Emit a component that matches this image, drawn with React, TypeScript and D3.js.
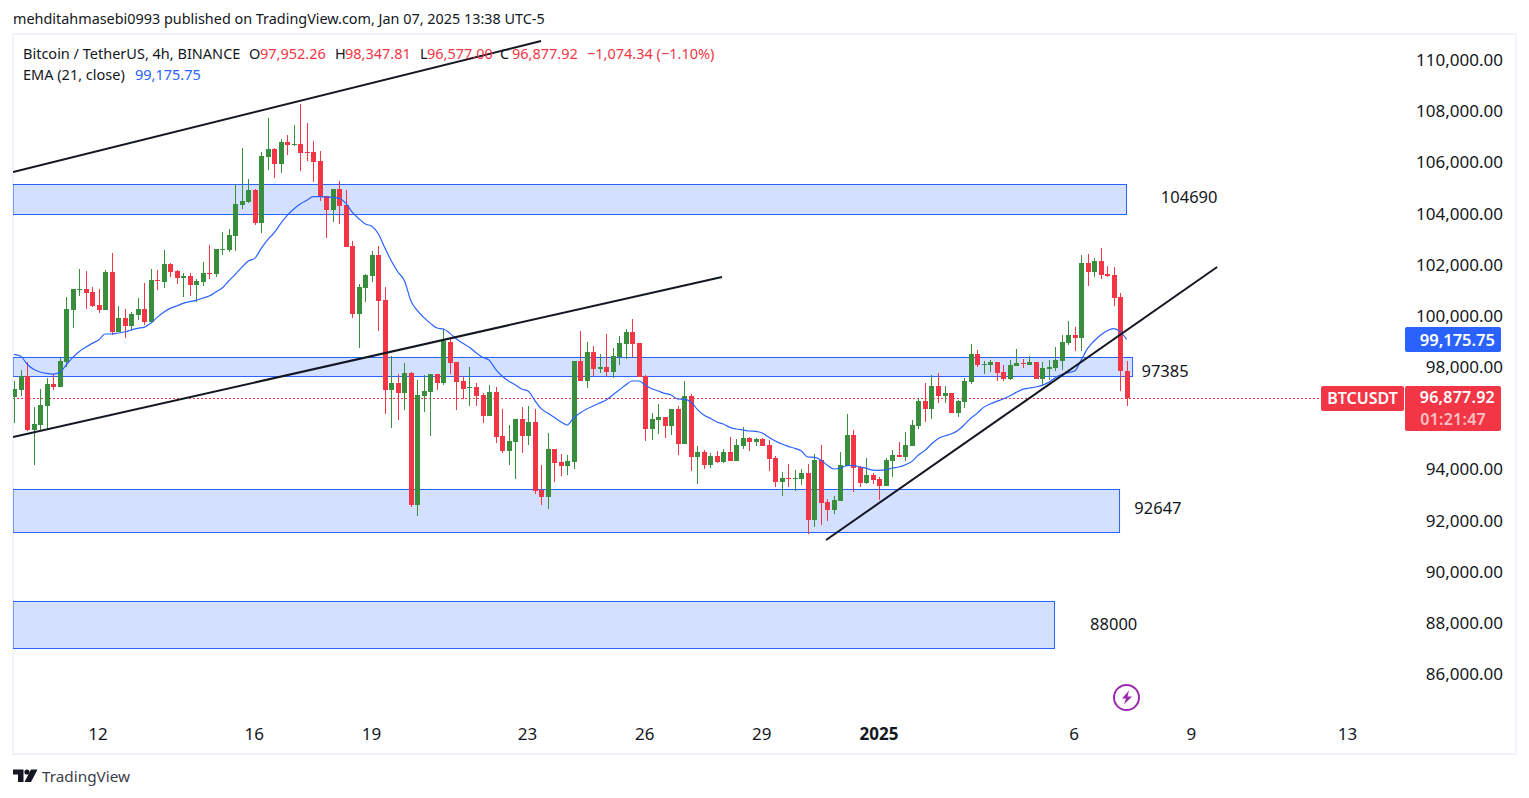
import React from "react";
import * as d3 from "d3";

type C = number[];
// [open, high, low, close], oldest first
const candlesA: C[] = [[96941,97554,95925,97241],[97202,97984,96980,97749],[97749,98297,95612,95638],[95638,96537,94270,95873],[95834,97241,95638,96616],[96577,97671,95677,97437],[97437,97827,97202,97319],[97319,98466,97319,98336],[98297,100837,98114,100368],[100329,101150,99626,101150],[101111,101932,100876,101150],[101150,101854,100368,100994],[101033,101228,100446,100486],[100525,101150,100212,100329],[100329,101893,100329,101815],[101815,102557,99352,99469],[99469,100486,99469,100016],[100016,100368,99235,99704],[99704,100251,99547,100173],[100134,100798,99938,100368],[100368,101385,99743,99860],[99860,101932,99860,101502],[101502,101893,101111,101463],[101424,102675,101189,102127],[102127,102166,101619,101815],[101854,101893,101346,101580],[101580,101776,100837,101658],[101658,101776,100876,101306],[101306,101541,100642,101463],[101424,102206,101267,101776],[101776,102870,101541,101736],[101736,102714,101619,102714],[102675,103378,102479,102714],[102675,103495,102596,103261]];
const candlesB: C[] = [[103222,105255,102636,104473],[104434,106662,104277,104590],[104551,105450,104512,105020],[105020,105059,103652,103730],[103730,106505,103339,106349],[106310,107834,105802,106623],[106623,106662,105489,106036],[106036,107014,105685,106896],[106896,107170,106388,106779],[106779,107561,106740,106818],[106818,108382,105763,106466],[106505,107639,106154,106466],[106505,106935,105333,106115],[106154,106545,104590,104746],[104785,104785,103144,104238],[104238,105059,103769,105059],[105059,105372,103691,104395],[104434,105020,102792,102792],[102831,103026,100016,100173],[100173,101346,98844,101228],[101189,101736,100642,101697],[101658,102636,101424,102479],[102479,102831,99508,100681],[100720,101228,96264,97202],[97202,98531,95717,97476],[97476,97827,96029,97085],[97085,98257,96420,97867],[97867,97906,92628,92707],[92707,97593,92277,97007],[96967,97788,96342,97163],[97124,97827,95404,97827],[97827,97827,97202,97476]];
const candlesC: C[] = [[97476,99586,97397,99117],[99078,99195,97827,98257],[98296,98296,96420,97515],[97554,97749,96850,97241],[97280,98101,96576,97319],[97319,97476,96576,96967],[97006,97085,95912,96186],[96186,97397,96186,97124],[97124,97319,95130,95365],[95404,96459,94739,94817],[94817,95834,94270,95208],[95169,96068,93723,96068],[96068,96537,94739,95404],[95404,96576,95052,95951],[95951,96459,93137,93254],[93293,94270,92707,93019],[93019,95521,92550,94896],[94896,94896,93606,94348],[94387,94700,93840,94231],[94231,94661,93879,94427],[94387,98336,94114,98336],[98336,99508,97554,97554],[97554,99078,97280,98687],[98687,98922,97749,98023],[98023,98609,97866,98101],[98101,99391,97749,97906],[97906,98844,97671,98531],[98492,99313,98179,99039],[99000,99586,98414,99469],[99469,99977,98492,99000],[99039,99039,97710,97710],[97749,97788,95208,95677]];
const candlesD: C[] = [[95678,96303,95248,96069],[96030,96655,95482,96147],[96147,96147,95326,95795],[95795,96460,95443,96460],[96460,96577,94661,95091],[95091,97554,95091,96968],[96968,97046,94036,94583],[94583,95013,93528,94779],[94779,94857,94114,94271],[94271,94740,94153,94622],[94622,94818,94349,94388],[94388,94896,94349,94779],[94779,95365,94427,94427],[94427,95287,94427,95052],[95013,95756,94896,95326],[95326,95365,94818,95170],[95170,95326,95013,95287],[95287,95326,95013,95013],[95052,95248,94036,94505],[94544,94622,93411,93606],[93606,93997,93059,93762],[93762,94310,93411,93723],[93723,94075,93254,93762],[93723,94114,93489,93958],[93958,94310,91573,92121],[92121,94701,91847,94466],[94466,95052,91925,92785],[92824,92941,92082,92511],[92511,93059,92355,92902],[92863,94779,92863,94271],[94231,96264,94231,95443],[95443,95639,93215,94153],[94192,94231,93411,93567]];
const candlesE: C[] = [[93566,94543,93527,93879],[93879,93957,93527,93683],[93723,93801,92902,93449],[93449,94543,93449,94465],[94426,94856,93801,94661],[94661,95169,94583,94583],[94583,95560,94426,95052],[95013,96029,95013,95833],[95794,96889,95677,96772],[96772,97475,95951,96459],[96459,97788,96068,97358],[97358,97866,96693,96967],[96967,97358,96693,97084],[97084,97084,96303,96303],[96303,96811,96146,96772],[96733,97671,96498,97553],[97514,99000,97436,98609],[98609,98765,98101,98179],[98179,98335,97827,98218],[98179,98374,97905,98296],[98296,98296,97553,97866],[97905,98179,97553,97632],[97632,98374,97592,98179],[98140,98804,98140,98257],[98257,98413,98062,98218],[98179,98531,98179,98296],[98296,98296,97632,97632],[97632,98296,97358,98062],[98022,98374,97592,98101],[98062,98882,97944,98374],[98335,99352,97983,99078],[99040,99900,98962,99352],[99352,99665,98727,99235],[99235,102480,98727,102167],[102167,102519,101268,101815],[101815,102362,101620,102245],[102245,102753,101541,101698],[101737,102050,101620,101659],[101698,102011,100486,100799],[100838,100994,97163,97945],[97952,98348,96577,96878]];
const candles = [...candlesA, ...candlesB, ...candlesC, ...candlesD, ...candlesE];

const emaValues = [98592,98527,98214,98006,97902,97849,97823,97876,98175,98462,98696,98866,99022,99152,99387,99387,99426,99465,99543,99609,99648,99804,100039,100234,100390,100482,100586,100651,100703,100794,100872,101029,101185,101459,
101719,101993,102241,102345,102736,103075,103348,103713,104026,104273,104469,104612,104755,104755,104742,104729,104690,104495,104143,103895,103687,103596,103296,102749,102241,101811,101472,100677,100299,100026,99804,
99621,99582,99413,99191,99022,98866,98657,98475,98371,98019,97745,97550,97406,97237,97159,96807,96468,96299,96129,95960,95830,96103,96299,96455,96572,96690,96807,97002,97198,97393,97550,97550,
97394,97250,97159,97068,97003,96846,96833,96742,96443,96221,96091,95947,95869,95739,95674,95635,95596,95583,95517,95348,95205,95087,94996,94918,94814,94579,94566,94462,94254,94110,94149,94240,94254,
94188,94136,94070,94057,94083,94149,94188,94279,94409,94657,94839,95087,95295,95399,95478,95608,95829,96090,96285,96520,96650,96755,96846,96963,97106,97224,97276,97315,97380,97497,97680,97800,97880,97940,
98371,98827,99114,99348,99518,99596,99479,99176];

const priceTicks = [110000,108000,106000,104000,102000,100000,98000,94000,92000,90000,88000,86000];
const timeTicks: [number, string, boolean][] = [[13,"12",false],[37,"16",false],[55,"19",false],[79,"23",false],[97,"26",false],[115,"29",false],[133,"2025",true],[163,"6",false],[181,"9",false],[205,"13",false]];
// [last candle index, top price, bottom price]
const zones = [[170.97,105239,104066],[171.9,98476,97733],[169.9,93316,91647],[159.9,88950,87113]];
// [candle index, price, candle index, price]
const trendLines = [[-0.15,105720,81,110840],[-0.15,95360,108.8,101615],[124.8,91335,184.9,102007]];
// [text, centre candle index, price]
const zoneLabels: [string, number, number][] = [["104690",180.6,104760],["97385",176.9,97950],["92647",175.8,92600],["88000",169,88060]];
const lastPrice = 96877.92;
const lastEma = 99175.75;

const FONT = "'Noto Sans', sans-serif";
const RED = "#f23645", GREEN = "#388e3c", BLUE = "#2962ff", INK = "#131722";

const x = d3.scaleLinear().domain([0, 171]).range([14, 1126.7]);
const y = d3.scaleLinear().domain([110000, 86000]).range([62.5, 676.5]);
const emaPath = d3.line<number>().x((_, i) => x(i)).y(d => y(d)).curve(d3.curveMonotoneX)(emaValues) as string;

export default function App() {
  const lastY = Math.round(y(lastPrice)) + 0.5;
  return (
    <svg width={1529} height={798} viewBox="0 0 1529 798"
      style={{ position: "absolute", left: 0, top: 0, display: "block", background: "#fff", fontFamily: FONT }}>
      <defs>
        <clipPath id="pane"><rect x={13} y={35} width={1392} height={718} /></clipPath>
      </defs>
      <text x={13} y={24} fontSize={14.4} fill={INK}>mehditahmasebi0993 published on TradingView.com, Jan 07, 2025 13:38 UTC-5</text>
      <rect x={13} y={34} width={1503} height={720} fill="none" stroke="#f0f3fa" strokeWidth={2} />

      <g clipPath="url(#pane)">
        {zones.map((z, i) => (
          <rect key={i} x={13} y={Math.round(y(z[1])) + 0.5} width={x(z[0]) - 13} height={Math.round(y(z[2]) - y(z[1]))}
            fill={BLUE} fillOpacity={0.2} stroke={BLUE} strokeWidth={1} />
        ))}
        <line x1={13} x2={1321} y1={lastY} y2={lastY} stroke={RED} strokeWidth={1} strokeDasharray="2 2" />
        {candles.map((c, i) => {
          const [o, h, l, cl] = c;
          const col = cl >= o ? GREEN : RED;
          const cx = Math.round(x(i));
          const top = Math.round(y(Math.max(o, cl)));
          const bot = Math.round(y(Math.min(o, cl)));
          return (
            <g key={i} fill={col}>
              <rect x={cx} y={Math.round(y(h))} width={1} height={Math.max(1, Math.round(y(l)) - Math.round(y(h)))} />
              <rect x={cx - 2} y={top} width={5} height={Math.max(1, bot - top)} />
            </g>
          );
        })}
        <path d={emaPath} fill="none" stroke={BLUE} strokeWidth={1.2} />
        {trendLines.map((t, i) => (
          <line key={i} x1={x(t[0])} y1={y(t[1])} x2={x(t[2])} y2={y(t[3])} stroke={INK} strokeWidth={2} />
        ))}
        {zoneLabels.map(([s, xi, p]) => (
          <text key={s} x={x(xi)} y={y(p)} textAnchor="middle" dominantBaseline="central" fontSize={16.5} fill={INK}>{s}</text>
        ))}
      </g>

      <g fontSize={14.5} dominantBaseline="central">
        <text x={23} y={53} fill={INK}>Bitcoin / TetherUS, 4h, BINANCE</text>
        <text x={249} y={53} fill={INK}>O</text><text x={260} y={53} fill={RED}>97,952.26</text>
        <text x={335} y={53} fill={INK}>H</text><text x={345} y={53} fill={RED}>98,347.81</text>
        <text x={420} y={53} fill={INK}>L</text><text x={427} y={53} fill={RED}>96,577.00</text>
        <text x={500} y={53} fill={INK}>C</text><text x={512} y={53} fill={RED}>96,877.92</text>
        <text x={587} y={53} fill={RED}>−1,074.34 (−1.10%)</text>
        <text x={23} y={74} fill={INK}>EMA (21, close)</text>
        <text x={135} y={74} fill={BLUE}>99,175.75</text>
      </g>

      <g fontSize={17} fill={INK} textAnchor="end" dominantBaseline="central">
        {priceTicks.map(p => (
          <text key={p} x={1503} y={y(p) - 3}>{d3.format(",.2f")(p)}</text>
        ))}
      </g>

      <rect x={1405} y={327} width={96} height={25} rx={2} fill={BLUE} />
      <text x={1495} y={339} textAnchor="end" dominantBaseline="central" fontSize={16.5} fontWeight={600} fill="#fff">{d3.format(",.2f")(lastEma)}</text>
      <rect x={1321} y={386} width={83} height={25} rx={2} fill={RED} />
      <text x={1362.5} y={398} textAnchor="middle" dominantBaseline="central" fontSize={16} fontWeight={600} fill="#fff">BTCUSDT</text>
      <rect x={1405} y={386} width={96} height={45} rx={2} fill={RED} />
      <text x={1495} y={397} textAnchor="end" dominantBaseline="central" fontSize={16} letterSpacing={0.25} fontWeight={600} fill="#fff">{d3.format(",.2f")(lastPrice)}</text>
      <text x={1486} y={419} textAnchor="end" dominantBaseline="central" fontSize={16} letterSpacing={0.25} fontWeight={600} fill="#fff" fillOpacity={0.7}>01:21:47</text>

      <g fontSize={17} fill={INK} textAnchor="middle" dominantBaseline="central">
        {timeTicks.map(([i, s, b]) => (
          <text key={s} x={x(i) - 0.5} y={733} fontWeight={b ? 700 : 400}>{s}</text>
        ))}
      </g>

      <circle cx={1126.5} cy={697.5} r={12.5} fill="#fff" stroke="#9c27b0" strokeWidth={2} />
      <path d="M1129 690.5 L1122 698.5 H1126 L1124 704.5 L1132 696.5 H1127.5 Z" fill="#9c27b0" />

      <g fill={INK}>
        <path d="M13 769.5 H23.5 V782 H18 V774.5 H13 Z" />
        <circle cx={27} cy={772} r={2.6} />
        <path d="M31 769.5 H37.5 L31 782 H24.5 Z" />
      </g>
      <text x={42} y={776} dominantBaseline="central" fontSize={15.3} fill="#3a3e4a">TradingView</text>
    </svg>
  );
}
